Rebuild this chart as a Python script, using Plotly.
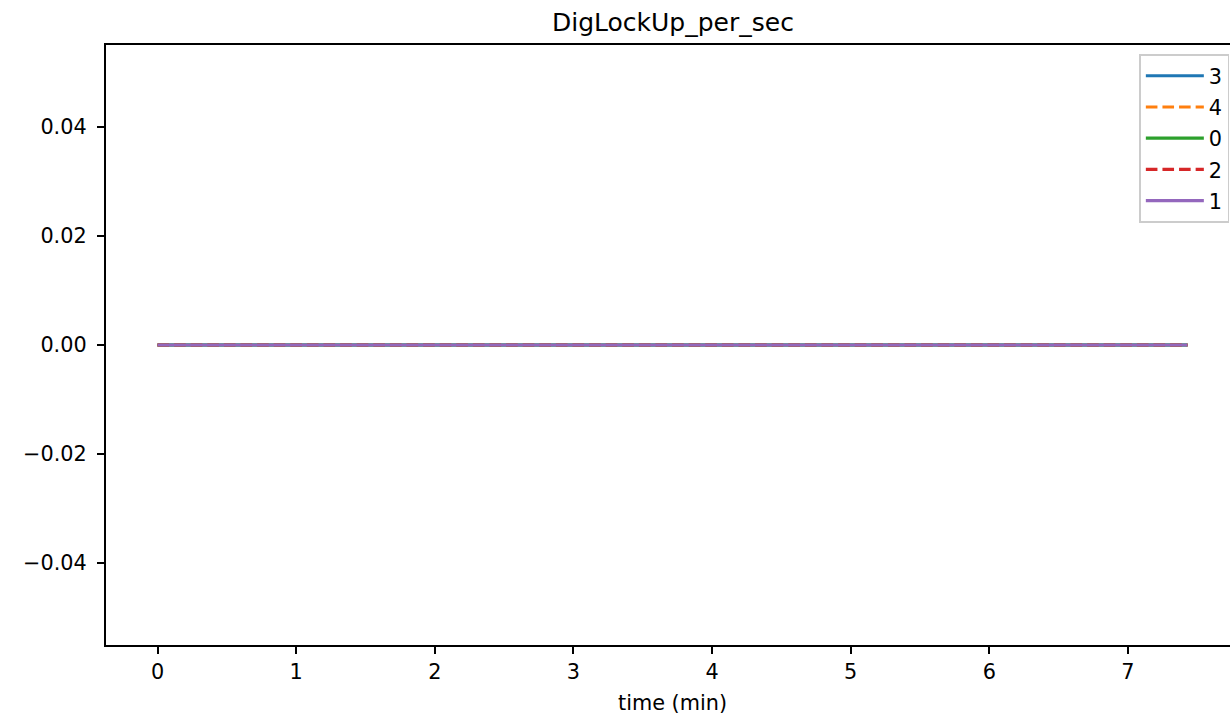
import plotly.graph_objects as go

# Data
series_names = ["3", "4", "0", "2", "1"]
time_min = [0.0, 0.5, 1.0, 1.5, 2.0, 2.5, 3.0, 3.5, 4.0, 4.5, 5.0, 5.5, 6.0, 6.5, 7.0, 7.43]
values_3 = [0, 0, 0, 0, 0, 0, 0, 0, 0, 0, 0, 0, 0, 0, 0, 0]
values_4 = [0, 0, 0, 0, 0, 0, 0, 0, 0, 0, 0, 0, 0, 0, 0, 0]
values_0 = [0, 0, 0, 0, 0, 0, 0, 0, 0, 0, 0, 0, 0, 0, 0, 0]
values_2 = [0, 0, 0, 0, 0, 0, 0, 0, 0, 0, 0, 0, 0, 0, 0, 0]
values_1 = [0, 0, 0, 0, 0, 0, 0, 0, 0, 0, 0, 0, 0, 0, 0, 0]
series_values = [values_3, values_4, values_0, values_2, values_1]
series_colors = ["#1f77b4", "#ff7f0e", "#2ca02c", "#d62728", "#9467bd"]
series_dash = ["solid", "11.6px,5px", "solid", "11.6px,5px", "solid"]

x_ticks = [0, 1, 2, 3, 4, 5, 6, 7]
y_ticks = [-0.04, -0.02, 0.0, 0.02, 0.04]
y_ticktext = ["\u22120.04", "\u22120.02", "0.00", "0.02", "0.04"]

FONT = "DejaVu Sans"
# figure is a bit wider than the 1230px window so the right spine is cut off, as in the reference
W, H = 1242, 721
L, R, T, B = 106, 1, 45, 76
PW = W - L - R

fig = go.Figure()
for name, vals, col, dash in zip(series_names, series_values, series_colors, series_dash):
    fig.add_trace(go.Scatter(
        x=time_min, y=vals, mode="lines", name=name, legendgroup=name,
        line=dict(color=col, width=3.1, dash=dash),
    ))

axis_common = dict(
    showgrid=False, zeroline=False, showline=True, linecolor="black", linewidth=1.67,
    ticks="outside", ticklen=7.3, tickwidth=1.67, tickcolor="black", mirror=True,
    tickfont=dict(family=FONT, size=20.8, color="black"),
)

fig.update_layout(
    width=W, height=H,
    margin=dict(l=L, r=R, t=T, b=B, pad=0),
    plot_bgcolor="white", paper_bgcolor="white",
    font=dict(family=FONT, size=20.8, color="black"),
    xaxis=dict(range=[-0.3715, 7.8015], tickvals=x_ticks, **axis_common),
    yaxis=dict(range=[-0.055, 0.055], tickvals=y_ticks, ticktext=y_ticktext,
               ticklabelstandoff=6, **axis_common),
    showlegend=True,
    legend=dict(
        x=(1141 - L) / PW, y=(645 - 54) / 600, xanchor="left", yanchor="top",
        bgcolor="rgba(255,255,255,0.8)", bordercolor="#cccccc", borderwidth=1.67,
        font=dict(family=FONT, size=20.8, color="black"),
        itemwidth=58, tracegroupgap=1.2,
    ),
    annotations=[
        dict(text="DigLockUp_per_sec", xref="paper", yref="paper",
             x=(673.5 - L) / PW, y=1 + (45 - 22) / 600, xanchor="center", yanchor="middle",
             showarrow=False, font=dict(family=FONT, size=25, color="black")),
        dict(text="time (min)", xref="paper", yref="paper",
             x=(673.5 - L) / PW, y=-(703 - 645) / 600, xanchor="center", yanchor="middle",
             showarrow=False, font=dict(family=FONT, size=20.8, color="black")),
    ],
)

fig.write_html("out.html", config={"displayModeBar": False},
               post_script="document.body.style.margin='0';document.body.style.overflow='hidden';")
